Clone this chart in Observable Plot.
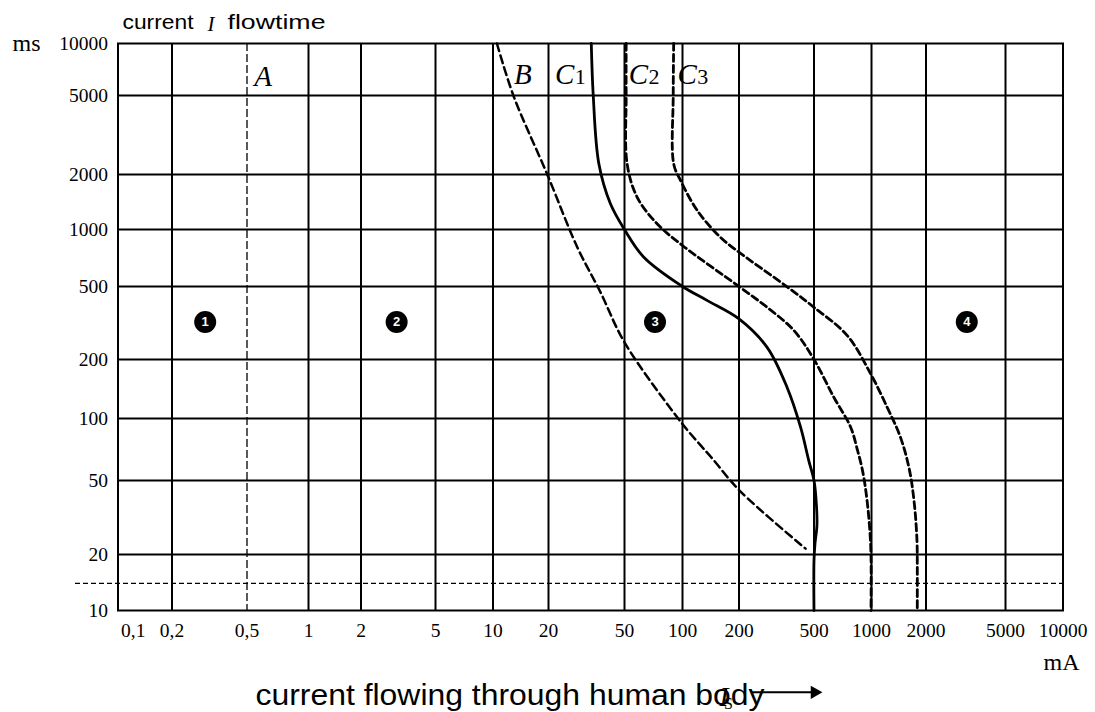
<!DOCTYPE html>
<html><head><meta charset="utf-8">
<script src="https://cdn.jsdelivr.net/npm/d3@7"></script>
<script src="https://cdn.jsdelivr.net/npm/@observablehq/plot@0.6"></script>
<style>body{margin:0;background:#fff}</style>
</head><body><div id="chart"></div>
<script>
// ---- data ----
const xTicks = [0.1,0.2,0.5,1,2,5,10,20,50,100,200,500,1000,2000,5000,10000];
const xTickLabels = ["0,1","0,2","0,5","1","2","5","10","20","50","100","200","500","1000","2000","5000","10000"];
const yTicks = [10,20,50,100,200,500,1000,2000,5000,10000];
const xGrid = [0.2,1,2,5,10,20,50,100,200,500,1000,2000,5000];
const yGrid = [20,50,100,200,500,1000,2000,5000];

const lineA = [0.5];
const tLimit = [14];

const bI = [10.5,12.9,19.7,28.3,37.4,50,100,125,144,202,451];
const bT = [10000,5000,2000,806,466,248,94,74,64,44,21.5];
const c1I = [33.5,34.3,36.7,42.2,50,63,100,135,200,282,360,424,469,500,515,518,506,500,500];
const c1T = [10000,5000,2264,1383,1000,714,500,420,333,233,144,91,62.5,50,36.7,28.6,22.9,18.6,10];
const c2I = [51,51,51.6,58.2,74,100,200,282,391,500,636,777,845,897,941,976,994,994];
const c2T = [10000,5000,2264,1500,1072,823,500,385,288,200,128,91,70,56,41.5,28.6,19.8,10];
const c3I = [90,89.5,90,97.7,120,159,200,360,500,747,990,1221,1446,1622,1728,1783,1790,1790];
const c3T = [10000,5000,2264,1855,1269,910,759,498,385,270,169,114,81,56,36.7,23.8,18,10];

const curveLabels = ["A","B","C","C","C"];
const curveSubs = ["","","1","2","3"];
const curveLabelI = [0.6,14.5,24.3,59.1,106];
const curveLabelT = [5700,5850,5850,5850,5850];

const zoneNames = ["1","2","3","4"];
const zoneI = [0.3,3.1,72,3200];
const zoneT = [320,320,320,320];

// ---- layout (scale ranges: the grid in the original is not exactly logarithmic) ----
const xPos = [117.5,171.5,246.5,308,360.5,435,492.5,548,624,682,738.5,813.5,871,925.5,1005,1062.5];
const yPos = [610,554,480,418,359,286,229,174,95,43];

const pts = (I, T) => I.map((v, i) => ({I: v, t: T[i]}));
const idx = a => a.map((_, i) => i);

const chart = Plot.plot({
  width: 1095, height: 712,
  marginLeft: 117.5, marginRight: 32.5, marginTop: 43, marginBottom: 102,
  style: {fontFamily: "'Liberation Serif', serif", fontSize: "19.5px", background: "#fff", color: "#000", overflow: "visible"},
  x: {type: "log", domain: xTicks, range: xPos, label: null, axis: null},
  y: {type: "log", domain: yTicks, range: yPos, label: null},
  marks: [
    Plot.ruleX(xGrid, {stroke: "#000", strokeWidth: 2}),
    Plot.ruleY(yGrid, {stroke: "#000", strokeWidth: 2}),
    Plot.frame({stroke: "#000", strokeWidth: 2}),
    Plot.ruleX(lineA, {stroke: "#000", strokeWidth: 1.3, strokeDasharray: "8,3"}),
    Plot.ruleY(tLimit, {stroke: "#000", strokeWidth: 1.2, strokeDasharray: "5,3", insetLeft: -42.5}),
    Plot.line(pts(bI, bT), {x: "I", y: "t", curve: "catmull-rom", stroke: "#000", strokeWidth: 2.5, strokeDasharray: "8,4.5"}),
    Plot.line(pts(c1I, c1T), {x: "I", y: "t", curve: "catmull-rom", stroke: "#000", strokeWidth: 2.8}),
    Plot.line(pts(c2I, c2T), {x: "I", y: "t", curve: "catmull-rom", stroke: "#000", strokeWidth: 2.8, strokeDasharray: "7,4"}),
    Plot.line(pts(c3I, c3T), {x: "I", y: "t", curve: "catmull-rom", stroke: "#000", strokeWidth: 2.8, strokeDasharray: "7,4"}),
    // curve labels
    Plot.text(idx(curveLabels), {x: i => curveLabelI[i], y: i => curveLabelT[i], text: i => curveLabels[i],
      lineAnchor: "bottom", textAnchor: "middle", fontSize: 29, fontStyle: "italic", fill: "#000"}),
    Plot.text(idx(curveSubs), {x: i => curveLabelI[i], y: i => curveLabelT[i], text: i => curveSubs[i],
      lineAnchor: "bottom", textAnchor: "start", dx: 10, fontSize: 22, fill: "#000"}),
    // zone markers
    Plot.dot(idx(zoneNames), {x: i => zoneI[i], y: i => zoneT[i], r: 11, fill: "#000", stroke: "none"}),
    Plot.text(idx(zoneNames), {x: i => zoneI[i], y: i => zoneT[i], text: i => zoneNames[i],
      fill: "#fff", fontSize: 13, fontWeight: "bold", fontFamily: "'Liberation Sans', sans-serif"}),
    // axes
    Plot.axisY(yTicks, {tickSize: 0, tickPadding: 10, tickFormat: d => String(d), fontSize: 19.5, label: null}),
    Plot.text(xTicks.slice(1), {x: d => d, text: d => xTickLabels[xTicks.indexOf(d)], frameAnchor: "bottom",
      lineAnchor: "top", dy: 13, textAnchor: "middle", fontSize: 19.5}),
    Plot.text([xTicks[0]], {x: d => d, text: d => xTickLabels[xTicks.indexOf(d)], frameAnchor: "bottom",
      lineAnchor: "top", dy: 13, dx: 3, textAnchor: "start", fontSize: 19.5}),
    // unit labels
    Plot.text(["ms"], {frameAnchor: "top-left", dx: -105.5, textAnchor: "start", lineAnchor: "middle", fontSize: 24}),
    Plot.text(["mA"], {frameAnchor: "bottom-right", dx: -1.5, dy: 52, textAnchor: "middle", lineAnchor: "middle", fontSize: 24}),
    // title
    Plot.text(["current"], {frameAnchor: "top-left", dx: 4.5, dy: -14.7, textAnchor: "start", lineAnchor: "bottom",
      fontSize: 20, fontFamily: "'Liberation Sans', sans-serif"}),
    Plot.text(["I"], {frameAnchor: "top-left", dx: 89.5, dy: -13, textAnchor: "start", lineAnchor: "bottom",
      fontSize: 21, fontStyle: "italic"}),
    Plot.text(["flowtime"], {frameAnchor: "top-left", dx: 109.5, dy: -14.7, textAnchor: "start", lineAnchor: "bottom",
      fontSize: 20, fontFamily: "'Liberation Sans', sans-serif"}),
    // caption
    Plot.text(["current flowing through human body"], {frameAnchor: "bottom-left", dx: 137.5, dy: 94.3, textAnchor: "start",
      lineAnchor: "bottom", fontSize: 30, fontFamily: "'Liberation Sans', sans-serif"}),
    Plot.text(["I"], {frameAnchor: "bottom-left", dx: 601.5, dy: 95, textAnchor: "start", lineAnchor: "bottom",
      fontSize: 27, fontStyle: "italic"}),
    Plot.text(["S"], {frameAnchor: "bottom-left", dx: 606, dy: 98, textAnchor: "start", lineAnchor: "bottom",
      fontSize: 16}),
    // arrow after caption
    Plot.link([{x1: 233, x2: 490, y: 3.63}], {x1: "x1", x2: "x2", y1: "y", y2: "y", stroke: "#000", strokeWidth: 2}),
    Plot.dot([{x: 504, y: 3.63}], {x: "x", y: "y", symbol: "triangle", rotate: 90, r: 5, fill: "#000", stroke: "none"})
  ]
});

// stretch the sans texts to the widths they have in the original
const lengths = {"current": 71, "flowtime": 98, "current flowing through human body": 509};
chart.querySelectorAll("text").forEach(t => {
  const len = lengths[t.textContent];
  if (len) {
    t.setAttribute("textLength", len);
    t.setAttribute("lengthAdjust", "spacingAndGlyphs");
  }
});

document.getElementById("chart").appendChild(chart);
</script>
</body></html>
